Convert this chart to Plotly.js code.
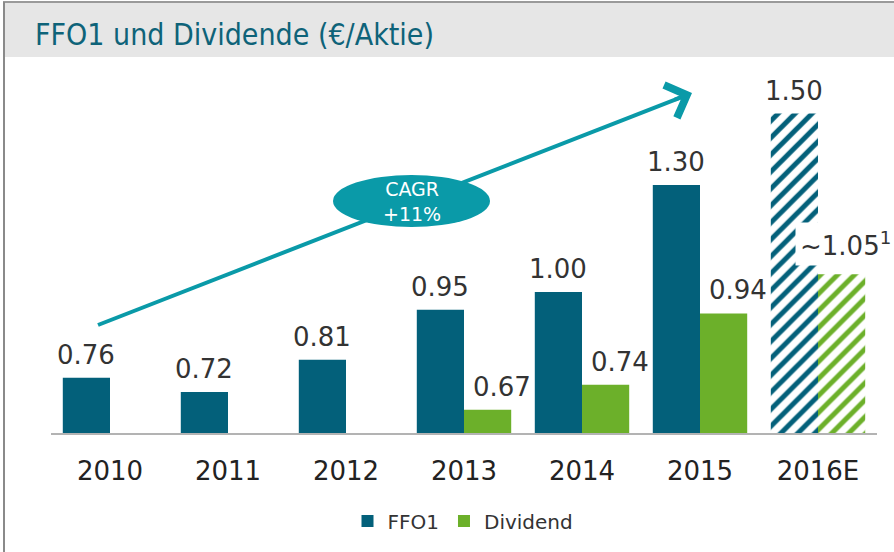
<!DOCTYPE html>
<html>
<head>
<meta charset="utf-8">
<script src="https://cdn.plot.ly/plotly-3.0.1.min.js"></script>
<style>
html,body{margin:0;padding:0;background:#fff;}
#chart{width:894px;height:552px;}
</style>
</head>
<body>
<div id="chart"></div>
<script>
// ---- data ----
var years = ['2010', '2011', '2012', '2013', '2014', '2015', '2016E'];
var ffo1 = [0.76, 0.72, 0.81, 0.95, 1.00, 1.30, 1.50];
var dividend = [null, null, null, 0.67, 0.74, 0.94, 1.05];
var ffo1Labels = ['0.76', '0.72', '0.81', '0.95', '1.00', '1.30', '1.50'];
var dividendLabels = [null, null, null, '0.67', '0.74', '0.94', '~1.05<sup>1</sup>'];
var isEstimate = [false, false, false, false, false, false, true];
var seriesNames = ['FFO1', 'Dividend'];
var chartTitle = 'FFO1 und Dividende (€/Aktie)';
var cagrText = 'CAGR<br>+11%';

// ---- styles ----
var cFFO = '#03607a';
var cDiv = '#6cb02a';
var cArrow = '#0a9aa8';
var font = 'DejaVu Sans, Verdana, sans-serif';

var L = 51, R = 17, T = 60, B = 119;
var W = 894, H = 552;
var pw = W - L - R, ph = H - T - B;
function px(x) { return (x - L) / pw; }
function py(y) { return (H - B - y) / ph; }

function patternFor(color) {
  return {
    shape: isEstimate.map(function (e) { return e ? '/' : ''; }),
    fillmode: 'replace',
    fgcolor: color,
    bgcolor: 'white',
    size: 12,
    solidity: 0.42
  };
}

var traces = [
  {
    type: 'bar', name: seriesNames[0], x: years, y: ffo1,
    marker: { color: cFFO, line: { width: 0 }, pattern: patternFor(cFFO) },
    hoverinfo: 'skip'
  },
  {
    type: 'bar', name: seriesNames[1], x: years, y: dividend,
    marker: { color: cDiv, line: { width: 0 }, pattern: patternFor(cDiv) },
    hoverinfo: 'skip'
  }
];

var annotations = [];
years.forEach(function (yr, i) {
  // category index used as x so that numeric-looking year names are not read as numbers
  if (ffo1[i] !== null) {
    annotations.push({
      x: i, y: ffo1[i], xref: 'x', yref: 'y', text: ffo1Labels[i],
      showarrow: false, yanchor: 'bottom', xanchor: 'center',
      xshift: -24, yshift: 6,
      font: { family: font, size: 26, color: '#333333' }
    });
  }
  if (dividend[i] !== null) {
    var est = isEstimate[i];
    annotations.push({
      x: i, y: dividend[i], xref: 'x', yref: 'y', text: dividendLabels[i],
      showarrow: false, yanchor: 'bottom', xanchor: 'center',
      xshift: est ? 27 : 38, yshift: est ? 8 : 6,
      bgcolor: est ? 'white' : 'rgba(0,0,0,0)', borderpad: est ? 4 : 1,
      font: { family: font, size: 26, color: '#333333' }
    });
  }
});

// arrow head (chevron) at end of CAGR line
var ax0 = 98, ay0 = 325, ax1 = 692, ay1 = 93;
var dx = ax1 - ax0, dy = ay1 - ay0, len = Math.sqrt(dx * dx + dy * dy);
annotations.push({
  x: px(ax1), y: py(ay1), xref: 'paper', yref: 'paper',
  ax: -dx / len * 20, ay: -dy / len * 20, axref: 'pixel', ayref: 'pixel',
  showarrow: true, arrowhead: 4, arrowsize: 1.7, arrowwidth: 4,
  arrowcolor: cArrow, text: ''
});
// CAGR ellipse text
annotations.push({
  x: px(411.5), y: py(201), xref: 'paper', yref: 'paper',
  text: cagrText, showarrow: false, xanchor: 'center', yanchor: 'middle',
  font: { family: font, size: 19, color: 'white' }
});

var shapes = [
  // title band
  { type: 'rect', xref: 'paper', yref: 'paper', x0: px(4), x1: px(896), y0: py(57), y1: py(2),
    fillcolor: '#e6e6e6', line: { width: 0 }, layer: 'below' },
  // frame top line
  { type: 'line', xref: 'paper', yref: 'paper', x0: px(3), x1: px(896), y0: py(2), y1: py(2),
    line: { color: '#9a9a9a', width: 2 } },
  // frame left line
  { type: 'line', xref: 'paper', yref: 'paper', x0: px(4), x1: px(4), y0: py(2), y1: py(554),
    line: { color: '#8a8a8a', width: 2 } },
  // CAGR arrow line
  { type: 'line', xref: 'paper', yref: 'paper', x0: px(ax0), y0: py(ay0), x1: px(ax1 - 4), y1: py(ay1 + 1.6),
    line: { color: cArrow, width: 4 }, layer: 'above' },
  // CAGR ellipse
  { type: 'circle', xref: 'paper', yref: 'paper', x0: px(333), x1: px(490), y0: py(227), y1: py(175),
    fillcolor: cArrow, line: { width: 0 }, layer: 'above' }
];

var layout = {
  width: W, height: H,
  margin: { l: L, r: R, t: T, b: B },
  paper_bgcolor: 'white', plot_bgcolor: 'white',
  title: {
    text: chartTitle,
    font: { family: 'DejaVu Sans Condensed, DejaVu Sans, sans-serif', size: 30, color: '#0e6379' },
    x: 35 / W, xref: 'container', xanchor: 'left',
    y: 1 - 34 / H, yref: 'container', yanchor: 'middle'
  },
  barmode: 'group', bargap: 0.2, bargroupgap: 0,
  xaxis: {
    type: 'category', range: [-0.5, 6.5],
    showline: true, linecolor: '#b3b3b3', linewidth: 2,
    showgrid: false, zeroline: false, ticks: '',
    ticklabelstandoff: 14,
    tickfont: { family: font, size: 26, color: '#222222' }
  },
  yaxis: { visible: false, range: [0.605, 1.65], fixedrange: true },
  showlegend: true,
  legend: {
    orientation: 'h', x: px(463), xanchor: 'center', y: py(521), yanchor: 'middle',
    font: { family: font, size: 20, color: '#333333' },
    itemclick: false, traceorder: 'normal'
  },
  shapes: shapes,
  annotations: annotations
};

Plotly.newPlot('chart', traces, layout, { staticPlot: true, displayModeBar: false });
</script>
</body>
</html>
